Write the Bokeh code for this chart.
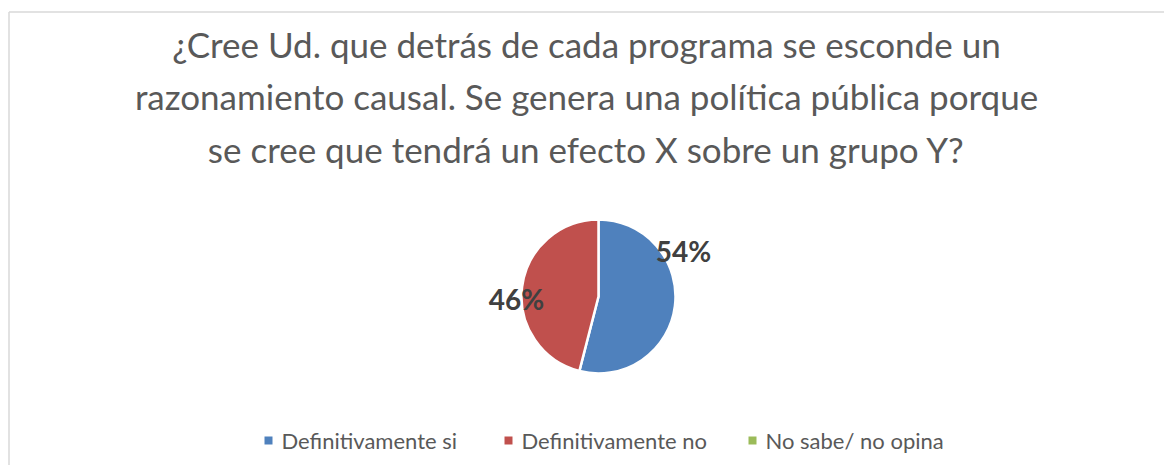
import math
from bokeh.plotting import figure
from bokeh.models import Range1d, ColumnDataSource
from bokeh.core.properties import value
from bokeh.embed import file_html
from bokeh.resources import INLINE

# ---- data ----
title_lines = [
    "¿Cree Ud. que detrás de cada programa se esconde un",
    "razonamiento causal. Se genera una política pública porque",
    "se cree que tendrá un efecto X sobre un grupo Y?",
]
categories = ["Definitivamente si", "Definitivamente no", "No sabe/ no opina"]
percentages = [54, 46, 0]
colors = ["#4F81BD", "#C0504D", "#9BBB59"]

W, H = 1164, 465
FONT = "Lato"

p = figure(width=W, height=H, output_backend="svg", toolbar_location=None,
           x_range=Range1d(0, W), y_range=Range1d(0, H),
           min_border=0, outline_line_color=None, background_fill_color="white")
p.axis.visible = False
p.grid.visible = False

def Y(py):
    return H - py

# chart border (top and left visible; rest runs off the window)
p.line([8.5, 8.5], [Y(H), Y(11.5)], line_color="#D9D9D9", line_width=1.5)
p.line([8.5, W], [Y(11.5), Y(11.5)], line_color="#D9D9D9", line_width=1.5)

# title
for i, line in enumerate(title_lines):
    p.text(x=[586], y=[Y(43 + i * 52.5)], text=[line], text_align="center",
           text_baseline="alphabetic", text_color="#595959",
           text_font=value(FONT), text_font_size="35px")

# pie
cx, cy, r = 598, Y(296), 77
total = sum(percentages)
starts, ends, cols, cats = [], [], [], []
a = math.pi / 2
for v, c, k in zip(percentages, colors, categories):
    s = a
    a -= 2 * math.pi * v / total
    if v > 0:
        starts.append(s)
        ends.append(a)
        cols.append(c)
        cats.append(k)
src = ColumnDataSource(dict(start=starts, end=ends, color=cols, cat=cats))
p.wedge(x=cx, y=cy, radius=r, radius_units="screen", start_angle="start",
        end_angle="end", direction="clock", fill_color="color",
        line_color="white", line_width=2.5, source=src)

# data labels
label_off = [(85, 46), (-82, -2)]
for v, (dx, dy) in zip(percentages, label_off):
    if v == 0:
        continue
    p.text(x=[cx + dx], y=[cy + dy], text=[f"{v}%"], text_align="center",
           text_baseline="middle", text_color="#404040",
           text_font=value(FONT), text_font_size="28px", text_font_style="bold")

# legend
leg_x = [268, 508, 752]
for xs, cat, col in zip(leg_x, categories, colors):
    p.scatter(x=[xs], y=[Y(440)], marker="square", size=8, fill_color=col,
              line_color=None)
    p.text(x=[xs + 13], y=[Y(440)], text=[cat], text_align="left",
           text_baseline="middle", text_color="#595959",
           text_font=value(FONT), text_font_size="22px")

open("out.html", "w").write(file_html(p, INLINE))
